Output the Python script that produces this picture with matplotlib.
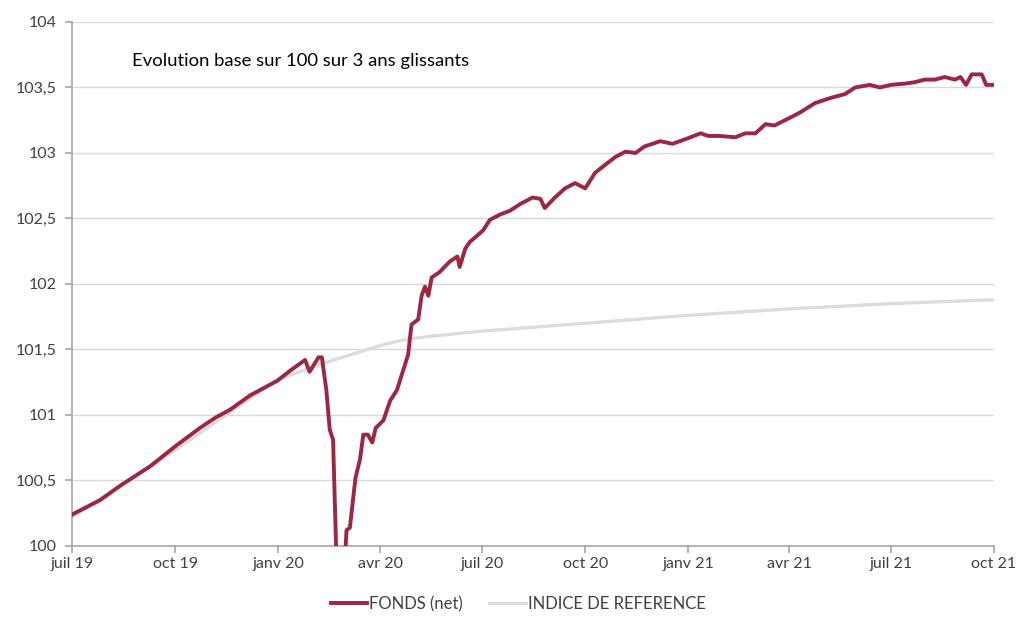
import pandas as pd
import matplotlib
matplotlib.use("Agg")
import matplotlib.pyplot as plt
from matplotlib.ticker import FuncFormatter

# FONDS (net)
fund_dates = [
    "2019-07-01", "2019-07-26", "2019-08-13", "2019-09-09", "2019-10-01", "2019-10-23",
    "2019-11-06", "2019-11-19", "2019-12-07", "2019-12-31", "2020-01-12", "2020-01-25",
    "2020-01-29", "2020-02-06", "2020-02-09", "2020-02-13", "2020-02-16", "2020-02-19",
    "2020-02-22", "2020-02-25", "2020-02-29", "2020-03-02", "2020-03-05", "2020-03-10",
    "2020-03-14", "2020-03-17", "2020-03-21", "2020-03-25", "2020-03-28", "2020-04-04",
    "2020-04-10", "2020-04-16", "2020-04-26", "2020-04-29", "2020-05-05", "2020-05-08",
    "2020-05-11", "2020-05-14", "2020-05-17", "2020-05-24", "2020-06-02", "2020-06-09",
    "2020-06-11", "2020-06-16", "2020-06-20", "2020-07-02", "2020-07-08", "2020-07-17",
    "2020-07-26", "2020-08-04", "2020-08-15", "2020-08-22", "2020-08-26", "2020-09-04",
    "2020-09-13", "2020-09-22", "2020-10-01", "2020-10-10", "2020-10-19", "2020-10-28",
    "2020-11-06", "2020-11-15", "2020-11-23", "2020-12-07", "2020-12-18", "2020-12-31",
    "2021-01-12", "2021-01-19", "2021-01-29", "2021-02-12", "2021-02-21", "2021-03-02",
    "2021-03-11", "2021-03-19", "2021-04-02", "2021-04-11", "2021-04-24", "2021-05-08",
    "2021-05-21", "2021-05-30", "2021-06-12", "2021-06-21", "2021-07-01", "2021-07-14",
    "2021-07-22", "2021-07-31", "2021-08-09", "2021-08-18", "2021-08-27", "2021-09-01",
    "2021-09-06", "2021-09-11", "2021-09-20", "2021-09-24", "2021-10-01",
]
fund_values = [
    100.24, 100.35, 100.46, 100.61, 100.76, 100.90,
    100.98, 101.04, 101.15, 101.26, 101.34, 101.42,
    101.33, 101.44, 101.44, 101.19, 100.89, 100.81,
    99.90, 99.60, 99.80, 100.12, 100.14, 100.52,
    100.66, 100.85, 100.85, 100.79, 100.90, 100.96,
    101.11, 101.19, 101.46, 101.69, 101.73, 101.91,
    101.98, 101.91, 102.05, 102.09, 102.17, 102.21,
    102.13, 102.27, 102.32, 102.41, 102.49, 102.53,
    102.56, 102.61, 102.66, 102.65, 102.58, 102.66,
    102.73, 102.77, 102.73, 102.85, 102.91, 102.97,
    103.01, 103.00, 103.05, 103.09, 103.07, 103.11,
    103.15, 103.13, 103.13, 103.12, 103.15, 103.15,
    103.22, 103.21, 103.27, 103.31, 103.38, 103.42,
    103.45, 103.50, 103.52, 103.50, 103.52, 103.53,
    103.54, 103.56, 103.56, 103.58, 103.56, 103.58,
    103.52, 103.60, 103.60, 103.52, 103.52,
]

# INDICE DE REFERENCE
ref_dates = [
    "2019-07-01", "2019-10-01", "2019-12-31", "2020-02-16", "2020-04-01", "2020-04-20",
    "2020-05-15", "2020-07-01", "2020-10-01", "2020-12-31", "2021-04-01", "2021-07-01",
    "2021-10-01",
]
ref_values = [
    100.22, 100.73, 101.27, 101.41, 101.53, 101.57,
    101.60, 101.64, 101.70, 101.76, 101.81, 101.85,
    101.88,
]

tick_dates = ["2019-07-01", "2019-10-01", "2020-01-01", "2020-04-01", "2020-07-01",
              "2020-10-01", "2021-01-01", "2021-04-01", "2021-07-01", "2021-10-01"]
tick_labels = ["juil 19", "oct 19", "janv 20", "avr 20", "juil 20",
               "oct 20", "janv 21", "avr 21", "juil 21", "oct 21"]

plt.rcParams['font.family'] = ['Lato', 'DejaVu Sans']

fig = plt.figure(figsize=(10.16, 6.21), dpi=100)
ax = fig.add_axes([0.0709, 0.1208, 0.9075, 0.8438])

ax.plot(pd.to_datetime(ref_dates), ref_values, color='#dcdcdc', lw=2.4,
        label='INDICE DE REFERENCE', zorder=2)
ax.plot(pd.to_datetime(fund_dates), fund_values, color='#9b2743', lw=2.8,
        label='FONDS (net)', zorder=3)

ax.set_ylim(100, 104)
ax.set_xlim(pd.Timestamp("2019-07-01"), pd.Timestamp("2021-10-01"))
ax.set_yticks([100, 100.5, 101, 101.5, 102, 102.5, 103, 103.5, 104])
ax.yaxis.set_major_formatter(FuncFormatter(lambda v, p: f"{v:g}".replace('.', ',')))
ax.set_xticks(pd.to_datetime(tick_dates))
ax.set_xticklabels(tick_labels)

ax.grid(axis='y', color='#d9d9d9', lw=1)
ax.set_axisbelow(True)
for s in ['top', 'right']:
    ax.spines[s].set_visible(False)
for s in ['left', 'bottom']:
    ax.spines[s].set_color('#a6a6a6')
    ax.spines[s].set_linewidth(1.2)
ax.tick_params(axis='both', colors='#a6a6a6', length=5, width=1.2,
               labelcolor='#404040', labelsize=11.5)
ax.tick_params(axis='y', pad=6)
ax.tick_params(axis='x', pad=3)

ax.text(0.065, 0.925, "Evolution base sur 100 sur 3 ans glissants", transform=ax.transAxes,
        fontsize=13.3, color='black', va='center')

handles, labels = ax.get_legend_handles_labels()
fig.legend(handles[::-1], labels[::-1], loc='lower center', bbox_to_anchor=(0.51, -0.01),
           ncol=2, frameon=False, fontsize=12, handlelength=2.2, handletextpad=0.1,
           columnspacing=1.6, labelcolor='#404040')

fig.savefig("out.png", dpi=100)
